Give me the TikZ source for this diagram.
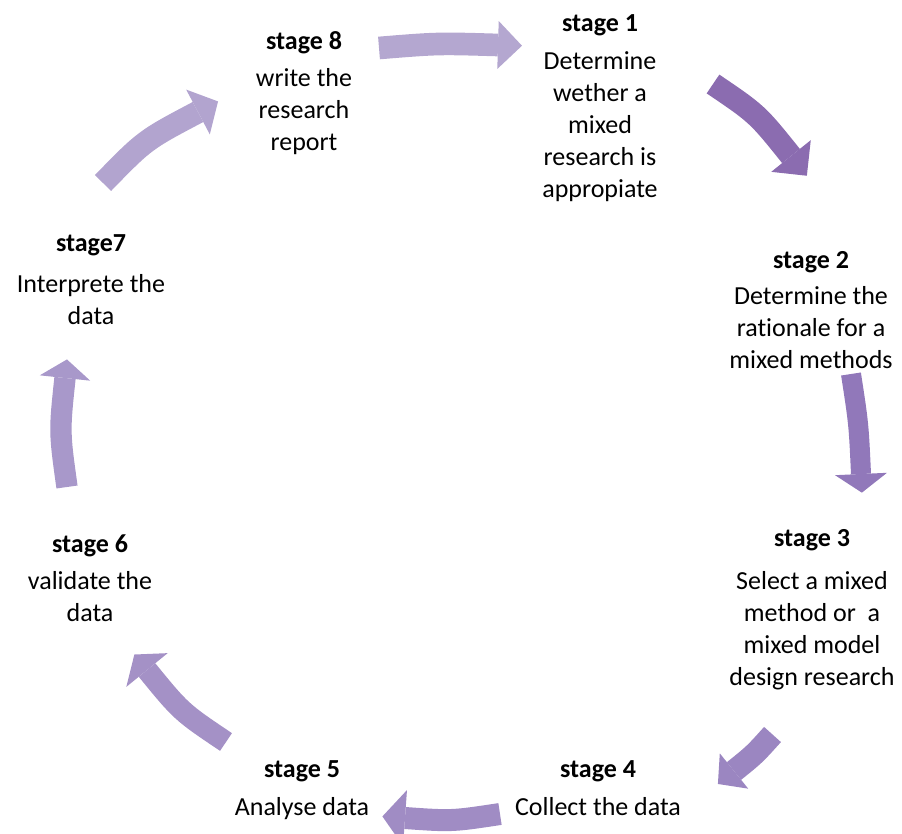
\documentclass[tikz,border=0pt]{standalone}
\usepackage{fontspec}
\setmainfont{Carlito}[Ligatures=NoCommon]
\usetikzlibrary{calc}

% colours of the eight cycle arrows
\definecolor{arrA}{HTML}{B4A7D0}
\definecolor{arrB}{HTML}{8B6CB0}
\definecolor{arrC}{HTML}{9178BA}
\definecolor{arrD}{HTML}{9B86C1}
\definecolor{arrE}{HTML}{A08CC4}
\definecolor{arrF}{HTML}{A491C6}
\definecolor{arrG}{HTML}{A898CA}
\definecolor{arrH}{HTML}{B2A4CF}

% bent block arrow: tail, control point, head base, band width, head half width, head length, colour
\newcommand\cyclearrow[7]{%
  \draw[line width=#4, #7] #1 .. controls #2 .. #3;
  \fill[#7] ($#3!#5!90:#2$) -- ($#3!-#6!#2$) -- ($#3!#5!-90:#2$) -- cycle;
}

\begin{document}
\begin{tikzpicture}[x=0.75pt, y=-0.75pt,
  txt/.style={inner sep=0pt, font=\fontsize{19.5}{24}\selectfont},
  ttl/.style={txt, font=\fontsize{19.5}{24}\selectfont\bfseries},
  body/.style={txt, align=center, anchor=north}]
\useasboundingbox (0,0) rectangle (902,834);

% arrows, clockwise from stage 8 to stage 1
\cyclearrow{(379,48)}{(437.8,43.2)}{(498,45)}{17pt}{18pt}{18pt}{arrA}
\cyclearrow{(713,84)}{(757.3,114)}{(791,156)}{17pt}{19pt}{19pt}{arrB}
\cyclearrow{(851,374)}{(858.7,424)}{(861,474)}{15pt}{19.5pt}{14pt}{arrC}
\cyclearrow{(772.5,734.5)}{(754.5,754.5)}{(734,771)}{17pt}{17pt}{15.5pt}{arrD}
\cyclearrow{(500,814)}{(451.8,821.3)}{(405,818)}{16.5pt}{21pt}{17pt}{arrE}
\cyclearrow{(226,742)}{(181.2,711.9)}{(147,670)}{16pt}{20pt}{15pt}{arrF}
\cyclearrow{(67,487)}{(59.3,431.8)}{(65,378)}{16pt}{19pt}{14pt}{arrG}
\cyclearrow{(103,183)}{(144.9,140)}{(198,112)}{17pt}{19pt}{17pt}{arrH}

% stage labels
\node[ttl] (t1) at (600,25) {stage 1};
\node[body] (b1) at (600,51) {Determine\\wether a\\mixed\\research is\\appropiate};
\node[ttl] (t2) at (811,262) {stage 2};
\node[body] (b2) at (811,286) {Determine the\\rationale for a\\mixed methods};
\node[ttl] (t3) at (812,540) {stage 3};
\node[body] (b3) at (812,571) {Select a mixed\\method or\ \ a\\mixed model\\design research};
\node[ttl] (t4) at (598,771) {stage 4};
\node[body] (b4) at (598,797) {Collect the data};
\node[ttl] (t5) at (302,771) {stage 5};
\node[body] (b5) at (302,797) {Analyse data};
\node[ttl] (t6) at (90,546) {stage 6};
\node[body] (b6) at (90,571) {validate the\\data};
\node[ttl] (t7) at (91,245) {stage7};
\node[body] (b7) at (91,274) {Interprete the\\data};
\node[ttl] (t8) at (304,43) {stage 8};
\node[body] (b8) at (304,68) {write the\\research\\report};
\end{tikzpicture}
\end{document}
